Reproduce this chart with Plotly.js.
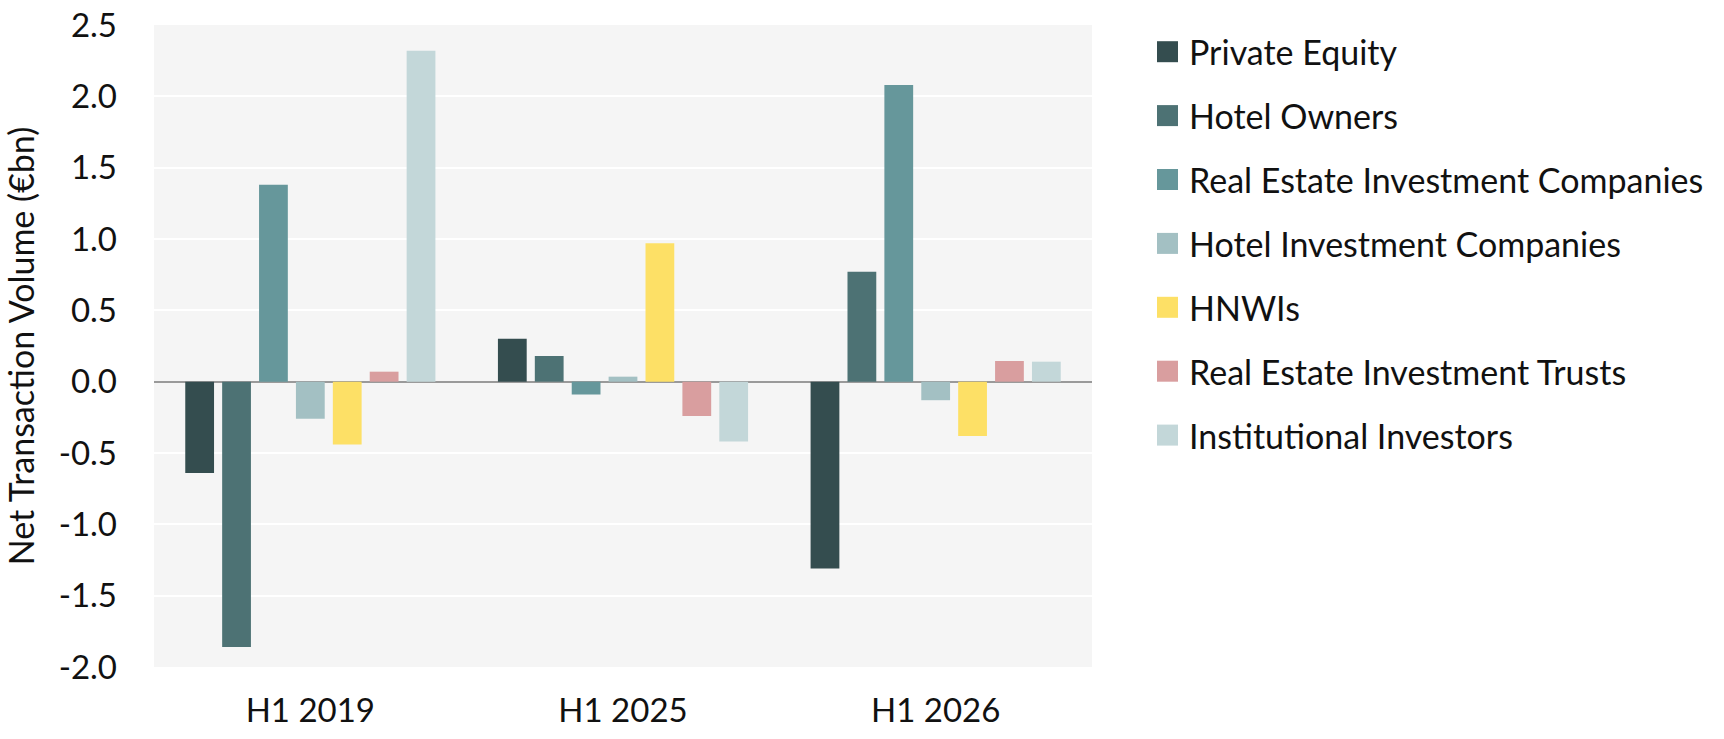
<!DOCTYPE html>
<html>
<head>
<meta charset="utf-8">
<script src="https://cdn.plot.ly/plotly-3.0.1.min.js"></script>
<style>
  html, body { margin: 0; padding: 0; background: #ffffff; }
  #graph { width: 1724px; height: 739px; }
</style>
</head>
<body>
<div id="graph"></div>
<script>
// periods on the x axis
var periods = ["H1 2019", "H1 2025", "H1 2026"];

// net transaction volume per buyer group (EUR bn), one value per period
var privateEquity   = [-0.64,  0.30, -1.31];
var hotelOwners     = [-1.86,  0.18,  0.77];
var reInvestCos     = [ 1.38, -0.09,  2.08];
var hotelInvestCos  = [-0.26,  0.035, -0.13];
var hnwis           = [-0.44,  0.97, -0.38];
var reits           = [ 0.07, -0.24,  0.145];
var institutional   = [ 2.32, -0.42,  0.14];

var seriesNames = ["Private Equity", "Hotel Owners", "Real Estate Investment Companies",
  "Hotel Investment Companies", "HNWIs", "Real Estate Investment Trusts", "Institutional Investors"];
var seriesColors = ["#344d4f", "#4d7274", "#66979b", "#a3c0c3", "#fde066", "#d99e9f", "#c3d7d9"];

var yTickVals = [-2, -1.5, -1, -0.5, 0, 0.5, 1, 1.5, 2, 2.5];
var yTickText = ["-2.0", "-1.5", "-1.0", "-0.5", "0.0", "0.5", "1.0", "1.5", "2.0", "2.5"];

var allSeries = [privateEquity, hotelOwners, reInvestCos, hotelInvestCos, hnwis, reits, institutional];

var FONT = "Lato, 'Open Sans', sans-serif"
var W = 1724, H = 739
var M = {l: 154, r: 632, t: 25, b: 72}
var plotW = W - M.l - M.r
var plotH = H - M.t - M.b

function paperX(px){ return (px - M.l) / plotW }
function paperY(py){ return 1 - (py - M.t) / plotH }

var traces = allSeries.map(function(vals, i){
  return {
    type: "bar",
    name: seriesNames[i],
    x: periods,
    y: vals,
    marker: {color: seriesColors[i]},
    hoverinfo: "skip"
  }
});

// hand-made legend: bigger swatches than plotly's own legend draws
var shapes = [], annos = []
var rowTop = 51.7, rowStep = 63.9
seriesNames.forEach(function(name, i){
  var cy = rowTop + i * rowStep
  shapes.push({type: "rect", xref: "paper", yref: "paper",
    x0: paperX(1157), x1: paperX(1178), y0: paperY(cy + 10.5), y1: paperY(cy - 10.5),
    fillcolor: seriesColors[i], line: {width: 0}})
  annos.push({xref: "paper", yref: "paper", x: paperX(1187), y: paperY(cy),
    xanchor: "left", yanchor: "middle", showarrow: false, text: name,
    font: {family: FONT, size: 34, color: "#111111"}})
});

var layout = {
  width: W, height: H,
  margin: M,
  paper_bgcolor: "#ffffff",
  plot_bgcolor: "#f5f5f5",
  showlegend: false,
  barmode: "group",
  bargap: 0.174,
  bargroupgap: 0.22,
  font: {family: FONT, color: "#111111"},
  xaxis: {
    type: "category",
    showgrid: false, zeroline: false, showline: false,
    ticks: "",
    ticklabelstandoff: 21,
    tickfont: {family: FONT, size: 33, color: "#111111"}
  },
  yaxis: {
    range: [-2, 2.5],
    tickvals: yTickVals,
    ticktext: yTickText,
    showgrid: true, gridcolor: "#ffffff", gridwidth: 2,
    zeroline: true, zerolinecolor: "#9a9a9a", zerolinewidth: 2,
    showline: false, ticks: "",
    ticklabelstandoff: 36,
    tickfont: {family: FONT, size: 33, color: "#111111"},
    title: {text: "Net Transaction Volume (€bn)", standoff: 18,
      font: {family: FONT, size: 34, color: "#111111"}}
  },
  shapes: shapes,
  annotations: annos
};

Plotly.newPlot("graph", traces, layout, {displayModeBar: false, staticPlot: true});
</script>
</body>
</html>
